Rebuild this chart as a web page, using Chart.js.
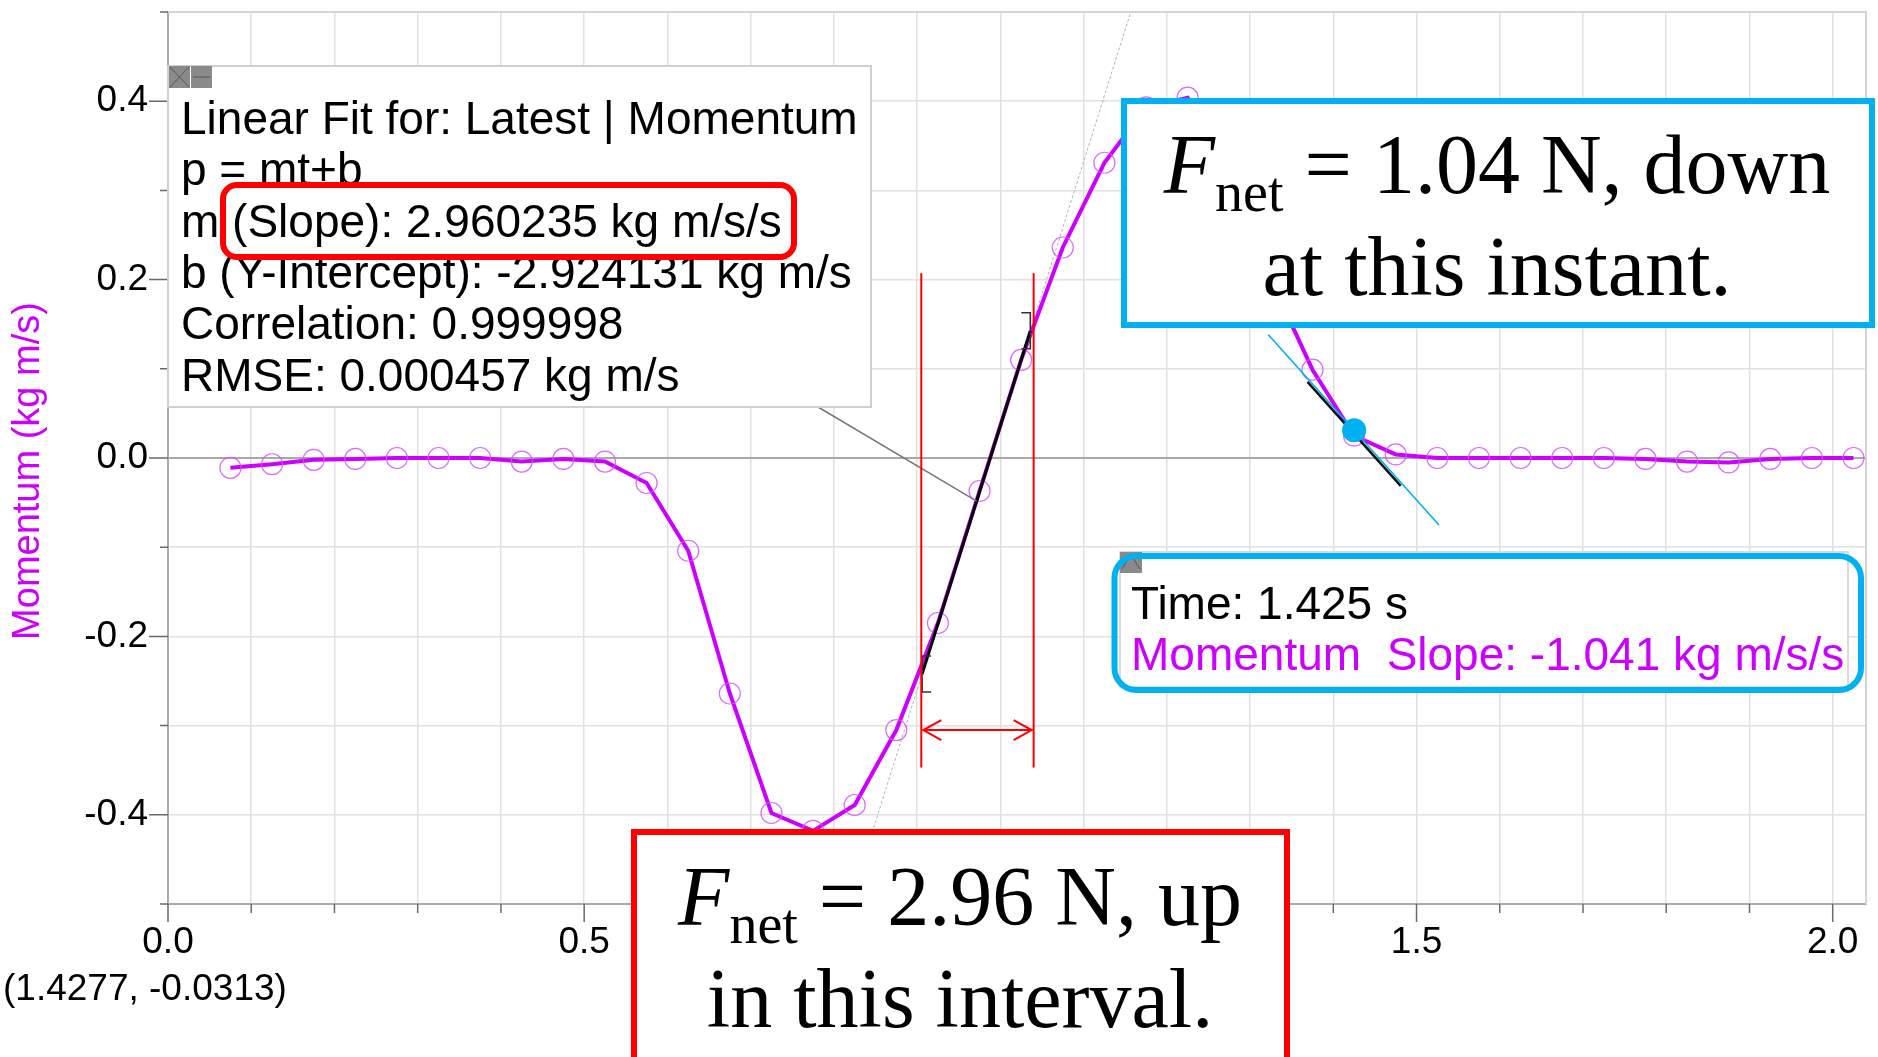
<!DOCTYPE html>
<html>
<head>
<meta charset="utf-8">
<title>Momentum vs Time</title>
<script src="https://cdn.jsdelivr.net/npm/chart.js@4.4.0/dist/chart.umd.min.js"></script>
<style>
    html, body { margin: 0; padding: 0; background: #fff; }
    canvas { display: block; }
</style>
</head>
<body>
<canvas id="momentumChart" width="1878" height="1057"></canvas>
<script>
// Sample times (s)
const times = [
    0.075, 0.125, 0.175, 0.225, 0.275, 0.325, 0.375, 0.425, 0.475, 0.525,
    0.575, 0.625, 0.675, 0.725, 0.775, 0.825, 0.875, 0.925, 0.975, 1.025,
    1.075, 1.125, 1.175, 1.225, 1.275, 1.325, 1.375, 1.425, 1.475, 1.525,
    1.575, 1.625, 1.675, 1.725, 1.775, 1.825, 1.875, 1.925, 1.975, 2.025
];
// Momentum (kg m/s)
const momentum = [
    -0.011, -0.007, -0.002, -0.001, 0.000, 0.000, 0.000, -0.004, -0.001, -0.004,
    -0.028, -0.104, -0.264, -0.398, -0.418, -0.389, -0.305, -0.185, -0.037, 0.110,
    0.236, 0.331, 0.393, 0.404, 0.340, 0.200, 0.099, 0.025, 0.004, 0.000,
    0.000, 0.000, 0.000, 0.000, -0.001, -0.004, -0.005, -0.001, 0.000, 0.000
];

// Labelled ticks
const xTickLabels = [0.0, 0.5, 1.0, 1.5, 2.0];
const yTickLabels = [-0.4, -0.2, 0.0, 0.2, 0.4];

// Linear fit p = mt + b over the selected interval
const fitSlope = 2.960235;
const fitIntercept = -2.924131;
const fitCorrelation = "0.999998";
const fitRmse = "0.000457";
const fitRange = [0.906, 1.036];

// Selected interval (red markers)
const intervalTimes = [0.905, 1.040];
const intervalSpan = [-0.347, 0.207];
const arrowMomentum = -0.305;

// Tangent at the examine point
const cursorTime = 1.425;
const cursorMomentum = 0.031;
const tangentSlope = -1.041;
const tangentRange = [1.322, 1.527];
const shortTangentRange = [1.369, 1.481];

// Mouse position readout
const mouseReadout = "(1.4277, -0.0313)";

const SANS = '"Liberation Sans", Arial, sans-serif';
const SERIF = '"Liberation Serif", "Times New Roman", serif';
const MAGENTA = "#CC00FF";
const CYAN = "#00B0F0";
const RED = "#FF0000";

function isLabelled(v, list) {
    return list.some((l) => Math.abs(l - v) < 1e-6);
}

function fitAt(t) {
    return fitSlope * t + fitIntercept;
}

function tangentAt(t) {
    return cursorMomentum + tangentSlope * (t - cursorTime);
}

function roundRectPath(ctx, x, y, w, h, r) {
    ctx.beginPath();
    ctx.moveTo(x + r, y);
    ctx.lineTo(x + w - r, y);
    ctx.arcTo(x + w, y, x + w, y + r, r);
    ctx.lineTo(x + w, y + h - r);
    ctx.arcTo(x + w, y + h, x + w - r, y + h, r);
    ctx.lineTo(x + r, y + h);
    ctx.arcTo(x, y + h, x, y + h - r, r);
    ctx.lineTo(x, y + r);
    ctx.arcTo(x, y, x + r, y, r);
    ctx.closePath();
}

// Small grey window buttons of the Logger Pro boxes
function drawButton(ctx, x, y, w, h, kind) {
    ctx.fillStyle = "#8a8a8a";
    ctx.fillRect(x, y, w, h);
    ctx.strokeStyle = "#555";
    ctx.lineWidth = 1;
    ctx.beginPath();
    if (kind === "close") {
        ctx.moveTo(x + 1, y + 1); ctx.lineTo(x + w - 1, y + h - 1);
        ctx.moveTo(x + w - 1, y + 1); ctx.lineTo(x + 1, y + h - 1);
    } else if (kind === "min") {
        ctx.moveTo(x + 2, y + h / 2); ctx.lineTo(x + w - 2, y + h / 2);
    } else {
        ctx.moveTo(x + 2, y + h - 4); ctx.lineTo(x + w / 2, y + 3); ctx.lineTo(x + w - 2, y + h - 4);
    }
    ctx.stroke();
}

// "F_net = ..." line with italic F and subscript
function drawForceLine(ctx, cx, baseline, rest) {
    const italic = "italic 84px " + SERIF;
    const small = "56px " + SERIF;
    const big = "84px " + SERIF;
    ctx.font = italic;
    const wF = ctx.measureText("F").width;
    ctx.font = small;
    const wSub = ctx.measureText("net").width;
    ctx.font = big;
    const wRest = ctx.measureText(rest).width;
    let x = cx - (wF + wSub + wRest) / 2;
    ctx.textAlign = "left";
    ctx.textBaseline = "alphabetic";
    ctx.fillStyle = "#000";
    ctx.font = italic;
    ctx.fillText("F", x, baseline);
    x += wF;
    ctx.font = small;
    ctx.fillText("net", x, baseline + 18);
    x += wSub;
    ctx.font = big;
    ctx.fillText(rest, x, baseline);
}

function drawCentered(ctx, text, cx, baseline) {
    ctx.font = "84px " + SERIF;
    ctx.textAlign = "center";
    ctx.textBaseline = "alphabetic";
    ctx.fillStyle = "#000";
    ctx.fillText(text, cx, baseline);
}

// Plot frame and tick marks
const frameAndTicks = {
    id: "frameAndTicks",
    beforeDatasetsDraw(chart) {
        const {ctx, chartArea: a, scales: {x, y}} = chart;
        ctx.save();
        ctx.strokeStyle = "#d4d4d4";
        ctx.lineWidth = 2;
        ctx.beginPath();
        ctx.moveTo(a.left, a.top);
        ctx.lineTo(a.right, a.top);
        ctx.lineTo(a.right, a.bottom);
        ctx.stroke();

        ctx.strokeStyle = "#6a6a6a";
        ctx.lineWidth = 1.5;
        ctx.beginPath();
        y.ticks.forEach((t) => {
            const py = y.getPixelForValue(t.value);
            const len = isLabelled(t.value, yTickLabels) ? 19 : 8;
            ctx.moveTo(a.left - len, py);
            ctx.lineTo(a.left, py);
        });
        x.ticks.forEach((t) => {
            const px = x.getPixelForValue(t.value);
            const len = isLabelled(t.value, xTickLabels) ? 18 : 9;
            ctx.moveTo(px, a.bottom);
            ctx.lineTo(px, a.bottom + len);
        });
        ctx.stroke();
        ctx.restore();
    },
};

// Interval markers, fit brackets, leader line, boxes
const markers = {
    id: "markers",
    afterDatasetsDraw(chart) {
        const {ctx, scales: {x, y}} = chart;
        ctx.save();

        // leader from the fit box to the fit line
        const leadT = 0.9715;
        ctx.strokeStyle = "#777";
        ctx.lineWidth = 1.5;
        ctx.beginPath();
        ctx.moveTo(818, 407);
        ctx.lineTo(x.getPixelForValue(leadT), y.getPixelForValue(fitAt(leadT)));
        ctx.stroke();

        // brackets at the ends of the fitted range
        ctx.strokeStyle = "#333";
        ctx.lineWidth = 1.6;
        fitRange.forEach((t, i) => {
            const px = x.getPixelForValue(t);
            const py = y.getPixelForValue(fitAt(t));
            const dir = i === 0 ? 1 : -1;
            ctx.beginPath();
            ctx.moveTo(px + dir * 9, py - 18);
            ctx.lineTo(px, py - 18);
            ctx.lineTo(px, py + 18);
            ctx.lineTo(px + dir * 9, py + 18);
            ctx.stroke();
        });

        // red interval lines and double arrow
        ctx.strokeStyle = RED;
        ctx.lineWidth = 2;
        const top = y.getPixelForValue(intervalSpan[1]);
        const bottom = y.getPixelForValue(intervalSpan[0]);
        const x0 = x.getPixelForValue(intervalTimes[0]);
        const x1 = x.getPixelForValue(intervalTimes[1]);
        const ay = y.getPixelForValue(arrowMomentum);
        ctx.beginPath();
        ctx.moveTo(x0, top); ctx.lineTo(x0, bottom);
        ctx.moveTo(x1, top); ctx.lineTo(x1, bottom);
        ctx.moveTo(x0 + 2, ay); ctx.lineTo(x1 - 2, ay);
        ctx.moveTo(x0 + 20, ay - 10); ctx.lineTo(x0 + 2, ay); ctx.lineTo(x0 + 20, ay + 10);
        ctx.moveTo(x1 - 20, ay - 10); ctx.lineTo(x1 - 2, ay); ctx.lineTo(x1 - 20, ay + 10);
        ctx.stroke();
        ctx.restore();
    },

    afterDraw(chart) {
        const {ctx} = chart;
        ctx.save();

        // y axis title
        ctx.save();
        ctx.translate(39, 471);
        ctx.rotate(-Math.PI / 2);
        ctx.font = "38px " + SANS;
        ctx.fillStyle = MAGENTA;
        ctx.textAlign = "center";
        ctx.textBaseline = "alphabetic";
        ctx.fillText("Momentum (kg m/s)", 0, 0);
        ctx.restore();

        // mouse readout under the axis
        ctx.font = "37px " + SANS;
        ctx.fillStyle = "#000";
        ctx.textAlign = "left";
        ctx.textBaseline = "alphabetic";
        ctx.fillText(mouseReadout, 3, 1000);

        // linear fit box
        ctx.fillStyle = "#fff";
        ctx.fillRect(168, 66, 703, 341);
        ctx.strokeStyle = "#cfcfcf";
        ctx.lineWidth = 2;
        ctx.strokeRect(168, 66, 703, 341);
        drawButton(ctx, 169, 66, 21, 22, "close");
        drawButton(ctx, 191, 66, 21, 22, "min");
        const fitLines = [
            "Linear Fit for: Latest | Momentum",
            "p = mt+b",
            "m (Slope): " + fitSlope.toFixed(6) + " kg m/s/s",
            "b (Y-Intercept): " + fitIntercept.toFixed(6) + " kg m/s",
            "Correlation: " + fitCorrelation,
            "RMSE: " + fitRmse + " kg m/s",
        ];
        ctx.font = "46px " + SANS;
        ctx.fillStyle = "#000";
        ctx.textAlign = "left";
        fitLines.forEach((line, i) => ctx.fillText(line, 181, 134 + i * 51.3));
        ctx.strokeStyle = RED;
        ctx.lineWidth = 6;
        roundRectPath(ctx, 223, 185, 571, 72, 14);
        ctx.stroke();

        // examine / tangent readout
        ctx.fillStyle = "#fff";
        ctx.fillRect(1120, 552, 728, 135);
        ctx.strokeStyle = "#cfcfcf";
        ctx.lineWidth = 1.5;
        ctx.strokeRect(1120, 552, 728, 135);
        drawButton(ctx, 1120, 552, 22, 21, "up");
        ctx.font = "46px " + SANS;
        ctx.textAlign = "left";
        ctx.fillStyle = "#000";
        ctx.fillText("Time: " + cursorTime.toFixed(3) + " s", 1131, 619);
        ctx.fillStyle = MAGENTA;
        ctx.fillText("Momentum  Slope: " + tangentSlope.toFixed(3) + " kg m/s/s", 1131, 670);
        ctx.strokeStyle = CYAN;
        ctx.lineWidth = 6;
        roundRectPath(ctx, 1114.5, 556, 746.5, 134, 22);
        ctx.stroke();

        // callout: force at the instant
        ctx.fillStyle = "#fff";
        ctx.fillRect(1124, 101, 748, 224);
        ctx.strokeStyle = CYAN;
        ctx.lineWidth = 6;
        ctx.strokeRect(1124, 101, 748, 224);
        drawForceLine(ctx, 1497, 193, " = " + Math.abs(tangentSlope).toFixed(2) + " N, down");
        drawCentered(ctx, "at this instant.", 1497, 295);

        // callout: force over the interval
        ctx.fillStyle = "#fff";
        ctx.fillRect(634, 832, 653, 240);
        ctx.strokeStyle = RED;
        ctx.lineWidth = 6;
        ctx.strokeRect(634, 832, 653, 240);
        drawForceLine(ctx, 960, 925, " = " + fitSlope.toFixed(2) + " N, up");
        drawCentered(ctx, "in this interval.", 960, 1027);

        ctx.restore();
    },
};

const momentumPoints = times.map((t, i) => ({x: t, y: momentum[i]}));
const fitExtent = [-0.5, 0.5].map((p) => ({x: (p - fitIntercept) / fitSlope, y: p}));
const fitSegment = fitRange.map((t) => ({x: t, y: fitAt(t)}));
const tangentLine = tangentRange.map((t) => ({x: t, y: tangentAt(t)}));
const shortTangent = shortTangentRange.map((t) => ({x: t, y: tangentAt(t) - 0.004}));

const chart = new Chart(document.getElementById("momentumChart"), {
    type: "scatter",
    data: {
        datasets: [
            {
                label: "Examine point",
                data: [{x: cursorTime, y: cursorMomentum}],
                pointRadius: 12,
                pointBackgroundColor: CYAN,
                pointBorderWidth: 0,
                order: 0,
            },
            {
                label: "Tangent",
                data: tangentLine,
                showLine: true,
                borderColor: CYAN,
                borderWidth: 1.6,
                pointRadius: 0,
                order: 1,
            },
            {
                label: "Tangent segment",
                data: shortTangent,
                showLine: true,
                borderColor: "#111",
                borderWidth: 2.5,
                pointRadius: 0,
                order: 2,
            },
            {
                label: "Linear fit",
                data: fitSegment,
                showLine: true,
                borderColor: "#000",
                borderWidth: 3,
                pointRadius: 0,
                order: 3,
            },
            {
                label: "Momentum",
                data: momentumPoints,
                showLine: true,
                borderColor: MAGENTA,
                borderWidth: 4,
                pointRadius: 10.5,
                pointBorderWidth: 1.2,
                pointBorderColor: "rgba(210, 80, 255, 0.85)",
                pointBackgroundColor: "rgba(0, 0, 0, 0)",
                order: 4,
            },
            {
                label: "Fit extended",
                data: fitExtent,
                showLine: true,
                borderColor: "#b4b4b4",
                borderWidth: 1,
                borderDash: [3, 2],
                pointRadius: 0,
                order: 5,
            },
        ],
    },
    options: {
        responsive: false,
        animation: false,
        devicePixelRatio: 1,
        events: [],
        layout: {padding: {top: 6, right: 12, left: 0, bottom: 0}},
        plugins: {
            legend: {display: false},
            tooltip: {enabled: false},
        },
        scales: {
            x: {
                type: "linear",
                min: 0,
                max: 2.04,
                afterFit: (scale) => {
                    scale.height = 153;
                    scale.paddingLeft = 0;
                    scale.paddingRight = 0;
                },
                ticks: {
                    stepSize: 0.1,
                    autoSkip: false,
                    maxRotation: 0,
                    includeBounds: false,
                    padding: 17,
                    color: "#000",
                    font: {family: SANS, size: 37},
                    callback: (v) => (isLabelled(v, xTickLabels) ? Number(v).toFixed(1) : ""),
                },
                grid: {color: "#e0e0e0", lineWidth: 1.5, drawTicks: false},
                border: {color: "#a9a9a9", width: 2},
            },
            y: {
                type: "linear",
                min: -0.5,
                max: 0.5,
                afterFit: (scale) => {
                    scale.width = 168;
                    scale.paddingTop = 0;
                    scale.paddingBottom = 0;
                },
                ticks: {
                    stepSize: 0.1,
                    autoSkip: false,
                    padding: 20,
                    color: "#000",
                    font: {family: SANS, size: 37},
                    callback: (v) => (isLabelled(v, yTickLabels) ? Number(v).toFixed(1) : ""),
                },
                grid: {
                    drawTicks: false,
                    color: (c) => (c.tick && Math.abs(c.tick.value) < 1e-9 ? "#a9a9a9" : "#e0e0e0"),
                    lineWidth: (c) => (c.tick && Math.abs(c.tick.value) < 1e-9 ? 2 : 1.5),
                },
                border: {color: "#a9a9a9", width: 2},
            },
        },
    },
    plugins: [frameAndTicks, markers],
});
</script>
</body>
</html>
